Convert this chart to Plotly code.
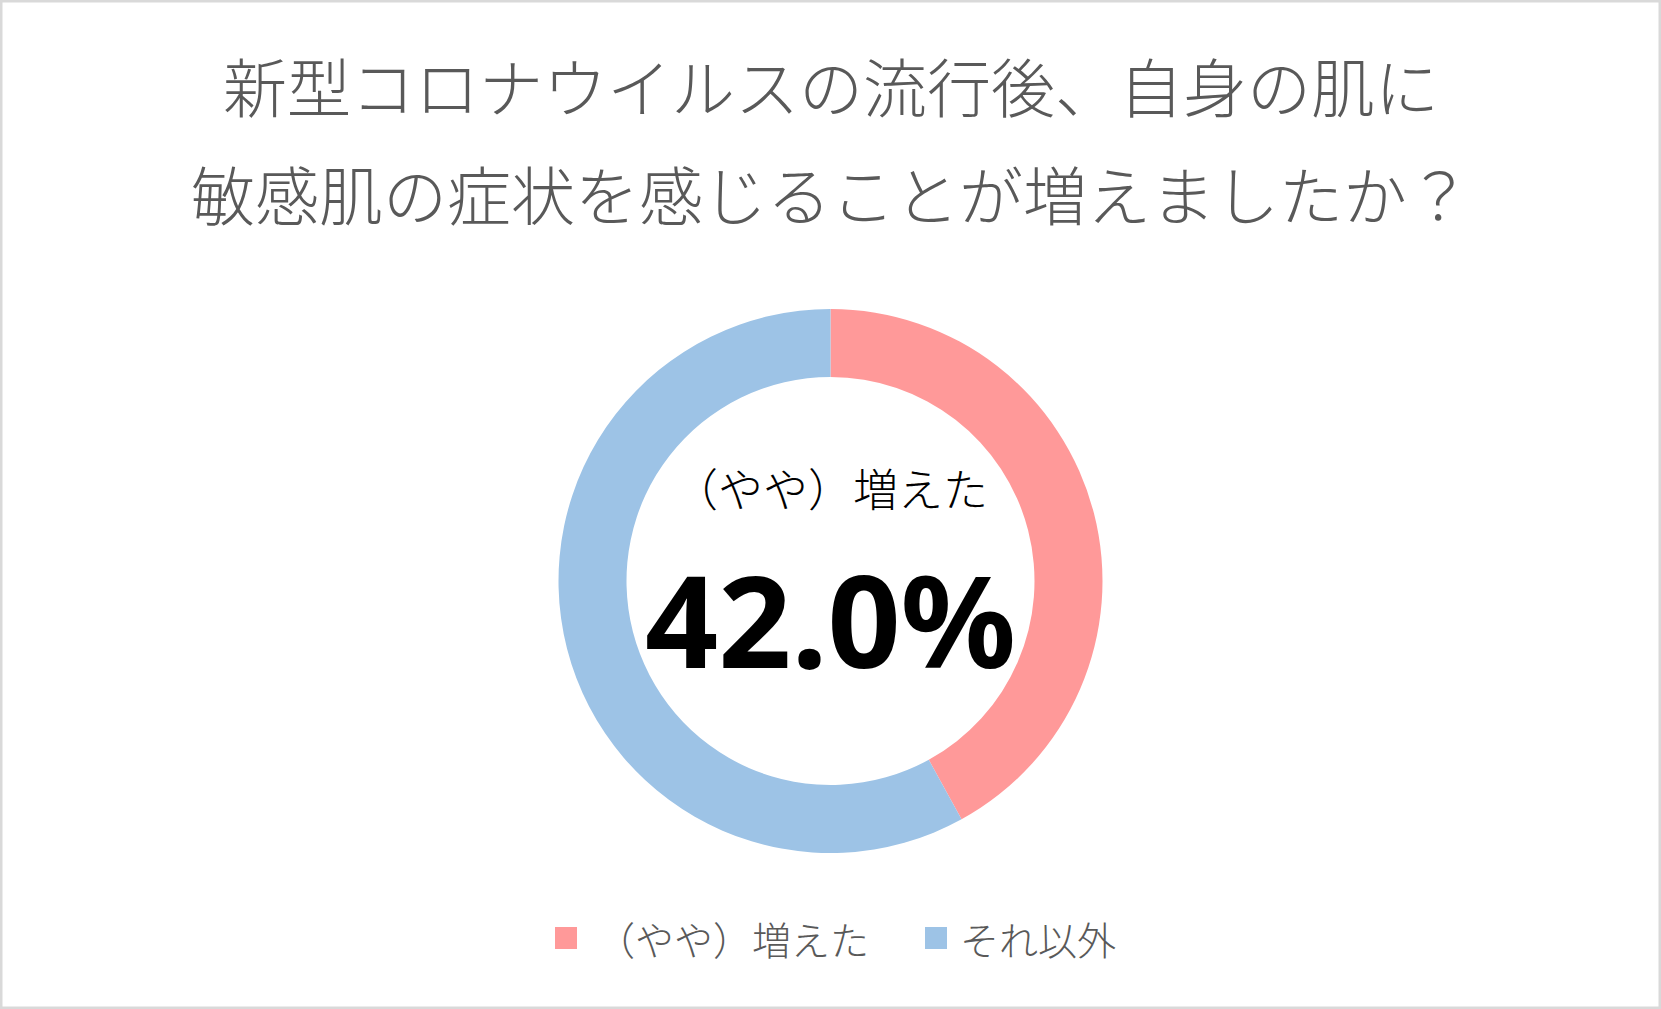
import plotly.graph_objects as go

W, H = 1661, 1009

title_lines = ["新型コロナウイルスの流行後、自身の肌に", "敏感肌の症状を感じることが増えましたか？"]
labels = ["（やや）増えた", "それ以外"]
values = [42.0, 58.0]
colors = ["#FF9999", "#9DC3E6"]
center_label = labels[0]
center_value = values[0]

JP = "Noto Sans CJK JP"
GRAY = "#595959"


def px(x):
    return x / W


def py(y):
    return 1 - y / H


fig = go.Figure()
fig.add_trace(go.Pie(
    labels=labels,
    values=values,
    hole=0.75,
    sort=False,
    direction="clockwise",
    rotation=0,
    marker=dict(colors=colors, line=dict(width=0)),
    textinfo="none",
    hoverinfo="label+percent",
    showlegend=False,
    domain=dict(x=[0, 1], y=[py(853), py(309)]),
))

annotations = []
for line, yc in zip(title_lines, [84, 192]):
    annotations.append(dict(
        text=line, x=0.5, y=py(yc), xref="paper", yref="paper",
        xanchor="center", yanchor="middle", showarrow=False,
        font=dict(family=JP, size=64, color=GRAY, weight=300),
    ))

annotations.append(dict(
    text=center_label, x=px(830), y=py(487), xref="paper", yref="paper",
    xanchor="center", yanchor="middle", showarrow=False,
    font=dict(family=JP, size=45, color="#000000", weight=300),
))
annotations.append(dict(
    text=f"<b>{center_value:.1f}%</b>", x=px(830), y=py(618), xref="paper", yref="paper",
    xanchor="center", yanchor="middle", showarrow=False,
    font=dict(family="Noto Sans", size=128, color="#000000"),
))

# legend (manual, so the square size matches)
shapes = []
legend_sq_x = [555, 925]
legend_tx_x = [594, 958]
ly = 938
for lab, col, sx, tx in zip(labels, colors, legend_sq_x, legend_tx_x):
    shapes.append(dict(
        type="rect", xref="paper", yref="paper",
        x0=px(sx), x1=px(sx + 22), y0=py(ly + 11), y1=py(ly - 11),
        fillcolor=col, line=dict(width=0),
    ))
    annotations.append(dict(
        text=lab, x=px(tx), y=py(ly), xref="paper", yref="paper",
        xanchor="left", yanchor="middle", showarrow=False,
        font=dict(family=JP, size=39, color=GRAY, weight=300),
    ))

# outer border
shapes.append(dict(
    type="rect", xref="paper", yref="paper", x0=0, x1=1, y0=0, y1=1,
    line=dict(color="#D9D9D9", width=5), fillcolor="rgba(0,0,0,0)",
))

fig.update_layout(
    width=W, height=H,
    margin=dict(l=0, r=0, t=0, b=0),
    paper_bgcolor="#FFFFFF",
    plot_bgcolor="#FFFFFF",
    annotations=annotations,
    shapes=shapes,
    showlegend=False,
)

fig.write_html(
    "out.html",
    config=dict(displayModeBar=False),
    post_script="document.body.style.margin='0';document.body.style.overflow='hidden';",
)
